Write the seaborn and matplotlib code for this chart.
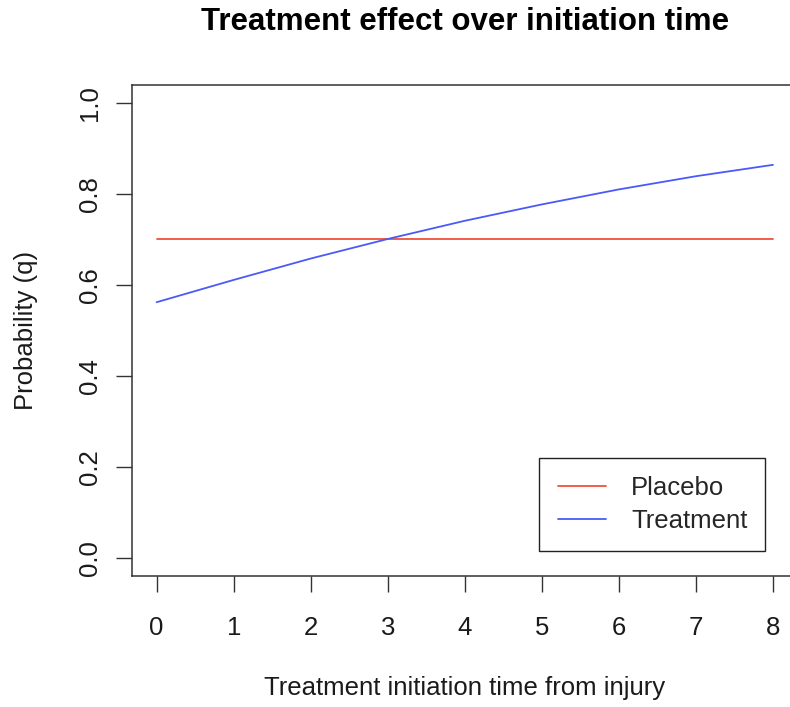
import matplotlib
matplotlib.use("Agg")
import matplotlib.pyplot as plt
import seaborn as sns
import pandas as pd

# Initiation time (days from injury) and probability of the outcome per arm
initiation_time = [0, 1, 2, 3, 4, 5, 6, 7, 8]
placebo = [0.70, 0.70, 0.70, 0.70, 0.70, 0.70, 0.70, 0.70, 0.70]
treatment = [0.562, 0.611, 0.658, 0.701, 0.741, 0.777, 0.810, 0.839, 0.864]
arms = ["Placebo", "Treatment"]
arm_colors = ["#F0503C", "#4A5AF8"]
x_ticks = [0, 1, 2, 3, 4, 5, 6, 7, 8]
y_ticks = [0.0, 0.2, 0.4, 0.6, 0.8, 1.0]

df = pd.concat([
    pd.DataFrame({"time": initiation_time, "q": placebo, "arm": arms[0]}),
    pd.DataFrame({"time": initiation_time, "q": treatment, "arm": arms[1]}),
])

sns.set_theme(style="white")
plt.rcParams["font.family"] = ["Liberation Sans", "DejaVu Sans"]

W, H = 790, 707
fig = plt.figure(figsize=(W / 100, H / 100), dpi=100)
left, right, top, bottom = 132, 797.6, 84.8, 576
ax = fig.add_axes([left / W, 1 - bottom / H, (right - left) / W, (bottom - top) / H])

sns.lineplot(data=df, x="time", y="q", hue="arm", palette=arm_colors,
             linewidth=1.3, ax=ax, legend=True)

ax.set_xlim(-0.32, 8.32)
ax.set_ylim(-0.04, 1.04)
ax.set_xticks(x_ticks)
ax.set_xticklabels([str(v) for v in x_ticks])
ax.set_yticks(y_ticks)
ax.set_yticklabels([f"{v:.1f}" for v in y_ticks], rotation=90, va="center")

for s in ax.spines.values():
    s.set_visible(True)
    s.set_color("#333333")
    s.set_linewidth(1.1)

ax.tick_params(axis="both", direction="out", length=11.5, width=1.0,
               color="#333333", labelsize=18.5, labelcolor="#1a1a1a",
               bottom=True, left=True, top=False, right=False)
ax.tick_params(axis="x", pad=17.5)
ax.tick_params(axis="y", pad=10)

ax.set_xlabel("Treatment initiation time from injury", fontsize=18.5,
              color="#1a1a1a", va="center")
ax.xaxis.set_label_coords(0.5, (bottom - 688) / (bottom - top))
ax.set_ylabel("Probability (q)", fontsize=18.5, color="#1a1a1a",
              va="center", ha="center")
ax.yaxis.set_label_coords((26 - left) / (right - left), 0.5)

fig.text(((left + right) / 2) / W, 1 - 22 / H,
         "Treatment effect over initiation time", fontsize=22.5,
         fontweight="bold", color="black", ha="center", va="center")

handles, labels = ax.get_legend_handles_labels()
leg = ax.legend(handles, labels, loc="lower left",
                bbox_to_anchor=((539 - left) / (right - left),
                                (bottom - 551) / (bottom - top),
                                (765 - 539) / (right - left),
                                (551 - 457) / (bottom - top)),
                mode="expand", fontsize=18.5, frameon=True, fancybox=False,
                edgecolor="#222222", framealpha=1, borderpad=0.72,
                handlelength=1.87, handletextpad=1.0, labelspacing=0.32,
                borderaxespad=0)
leg.get_frame().set_linewidth(1.0)

fig.savefig("out.png", dpi=100)
